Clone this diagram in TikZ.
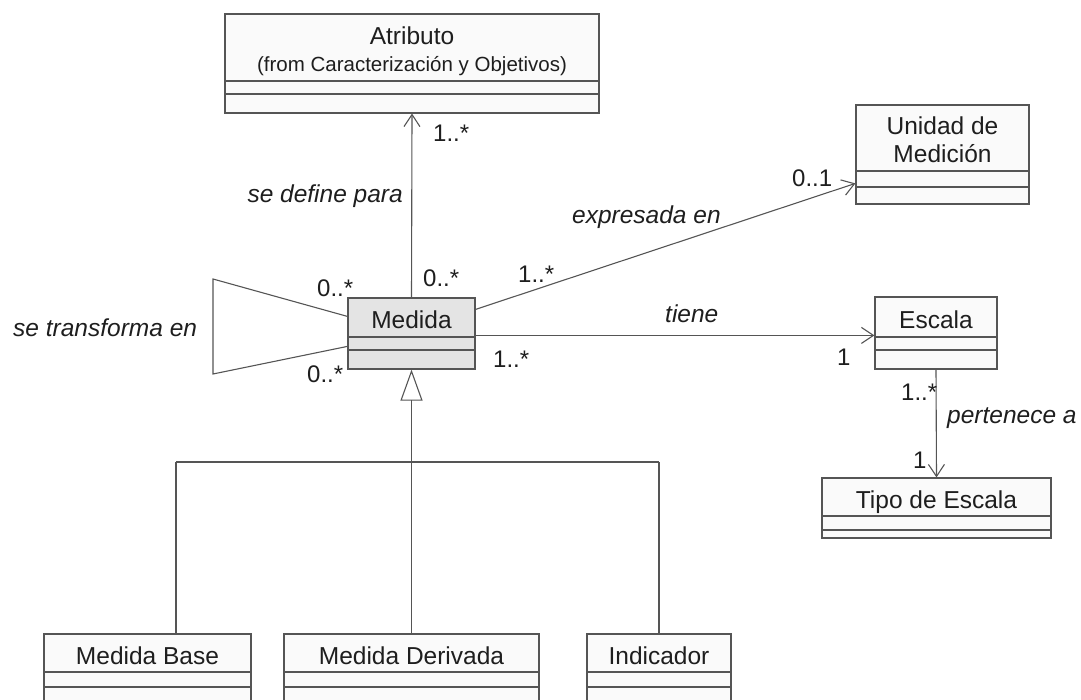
\documentclass[tikz,border=0pt]{standalone}
\usepackage{fontspec}
\setmainfont{Liberation Sans}
\usetikzlibrary{arrows.meta,fit,calc}

\definecolor{edge}{HTML}{555555}
\definecolor{ink}{HTML}{1E1E1E}
\definecolor{boxfill}{HTML}{FAFAFA}
\definecolor{keyfill}{HTML}{E4E4E4}

\tikzset{
  classbox/.style={draw=edge, line width=1.2pt, inner sep=0pt},
  divider/.style={draw=edge, line width=1.2pt},
  title/.style={inner sep=0pt, anchor=base, text=ink, font=\fontsize{24.5}{29}\selectfont},
  subtitle/.style={title, font=\fontsize{20.5}{24}\selectfont},
  role/.style={inner sep=0pt, text=ink, font=\fontsize{24.5}{29}\selectfont\itshape},
  mult/.style={inner sep=0pt, text=ink, font=\fontsize{24}{29}\selectfont},
  assoc/.style={draw=edge, line width=1.1pt},
  nav/.style={assoc, -{Straight Barb[length=12pt, width=16pt, line width=1.1pt]}},
  gen/.style={assoc, -{Triangle[open, length=31pt, width=22pt, line width=1.1pt]}}
}

% UML class frame: [fill]{name}{x1}{y1}{x2}{divider 1}{divider 2}{y2}
\newcommand\umlclass[8][boxfill]{%
  \node[classbox, fill=#1, fit={(#3,#4) (#5,#8)}] (#2) {};
  \draw[divider] (#3,#6) -- (#5,#6) (#3,#7) -- (#5,#7);
}

\begin{document}
\begin{tikzpicture}[x=1pt, y=-1pt]
  \useasboundingbox (0,0) rectangle (1081,700);
  \clip (0,0) rectangle (1081,700);

  % classes
  \umlclass{atributo}{225}{14}{599}{81}{94}{113}
  \node[title] (atributo-t) at (412,45) {Atributo};
  \node[subtitle] (atributo-s) at (412,72) {(from Caracterización y Objetivos)};

  \umlclass{unidad}{856}{105}{1029}{171}{187}{204}
  \node[title] (unidad-t1) at (942.5,135) {Unidad de};
  \node[title] (unidad-t2) at (942.5,163) {Medición};

  \umlclass[keyfill]{medida}{348}{298}{475}{337}{350}{369}
  \node[title] (medida-t) at (411.5,329) {Medida};

  \umlclass{escala}{875}{297}{997}{337}{350}{369}
  \node[title] (escala-t) at (936,329) {Escala};

  \umlclass{tipo}{822}{478}{1051}{516}{530}{538}
  \node[title] (tipo-t) at (936.5,508) {Tipo de Escala};

  \umlclass{base}{44}{634}{251}{672}{687}{712}
  \node[title] (base-t) at (147.5,664) {Medida Base};

  \umlclass{derivada}{284}{634}{539}{672}{687}{712}
  \node[title] (derivada-t) at (411.5,664) {Medida Derivada};

  \umlclass{indicador}{587}{634}{731}{672}{687}{712}
  \node[title] (indicador-t) at (659,664) {Indicador};

  % Medida -> Atributo
  \draw[nav] (medida.north) -- (atributo.south);

  % Medida -> Unidad de Medicion
  \coordinate (mE1) at ($(medida.north east)+(0,12)$);
  \coordinate (uW) at ($(unidad.north west)+(0,79)$);
  \draw[nav] (mE1) -- (uW);

  % Medida -> Escala
  \coordinate (mE2) at ($(medida.north east)+(0,38)$);
  \draw[nav] (mE2) -- (mE2 -| escala.west);

  % Escala -> Tipo de Escala
  \draw[nav] (escala.south) -- (tipo.north);

  % reflexive association on Medida
  \coordinate (mW1) at ($(medida.north west)+(0,19)$);
  \coordinate (mW2) at ($(medida.north west)+(0,49)$);
  \coordinate (loopT) at (213,279);
  \coordinate (loopB) at (213,374);
  \draw[assoc] (mW1) -- (loopT) -- (loopB) -- (mW2);

  % generalization tree
  \coordinate (barL) at (176,462);
  \coordinate (barR) at (659,462);
  \draw[assoc] (barL) -- (barR);
  \draw[assoc] (barL) -- (barL |- base.north);
  \draw[assoc] (barR) -- (barR |- indicador.north);
  \draw[gen] (derivada.north) -- (medida.south);

  % role names
  \node[role, anchor=base west] (r-transf) at (13,337) {se transforma en};
  \node[role, anchor=base east] (r-define) at (403,203) {se define para};
  \node[role, anchor=base west] (r-expr) at (572,224) {expresada en};
  \node[role, anchor=base west] (r-tiene) at (665,323) {tiene};
  \node[role, anchor=base west] (r-pert) at (947,423) {pertenece a};

  % multiplicities
  \node[mult, anchor=base west] (m1) at (433,142) {1..*};
  \node[mult, anchor=base west] (m2) at (423,287) {0..*};
  \node[mult, anchor=base west] (m3) at (518,283) {1..*};
  \node[mult, anchor=base west] (m4) at (317,297) {0..*};
  \node[mult, anchor=base west] (m5) at (307,382) {0..*};
  \node[mult, anchor=base west] (m6) at (493,367) {1..*};
  \node[mult, anchor=base west] (m7) at (837,365) {1};
  \node[mult, anchor=base west] (m8) at (792,187) {0..1};
  \node[mult, anchor=base west] (m9) at (901,400) {1..*};
  \node[mult, anchor=base west] (m10) at (913,468) {1};
\end{tikzpicture}
\end{document}
